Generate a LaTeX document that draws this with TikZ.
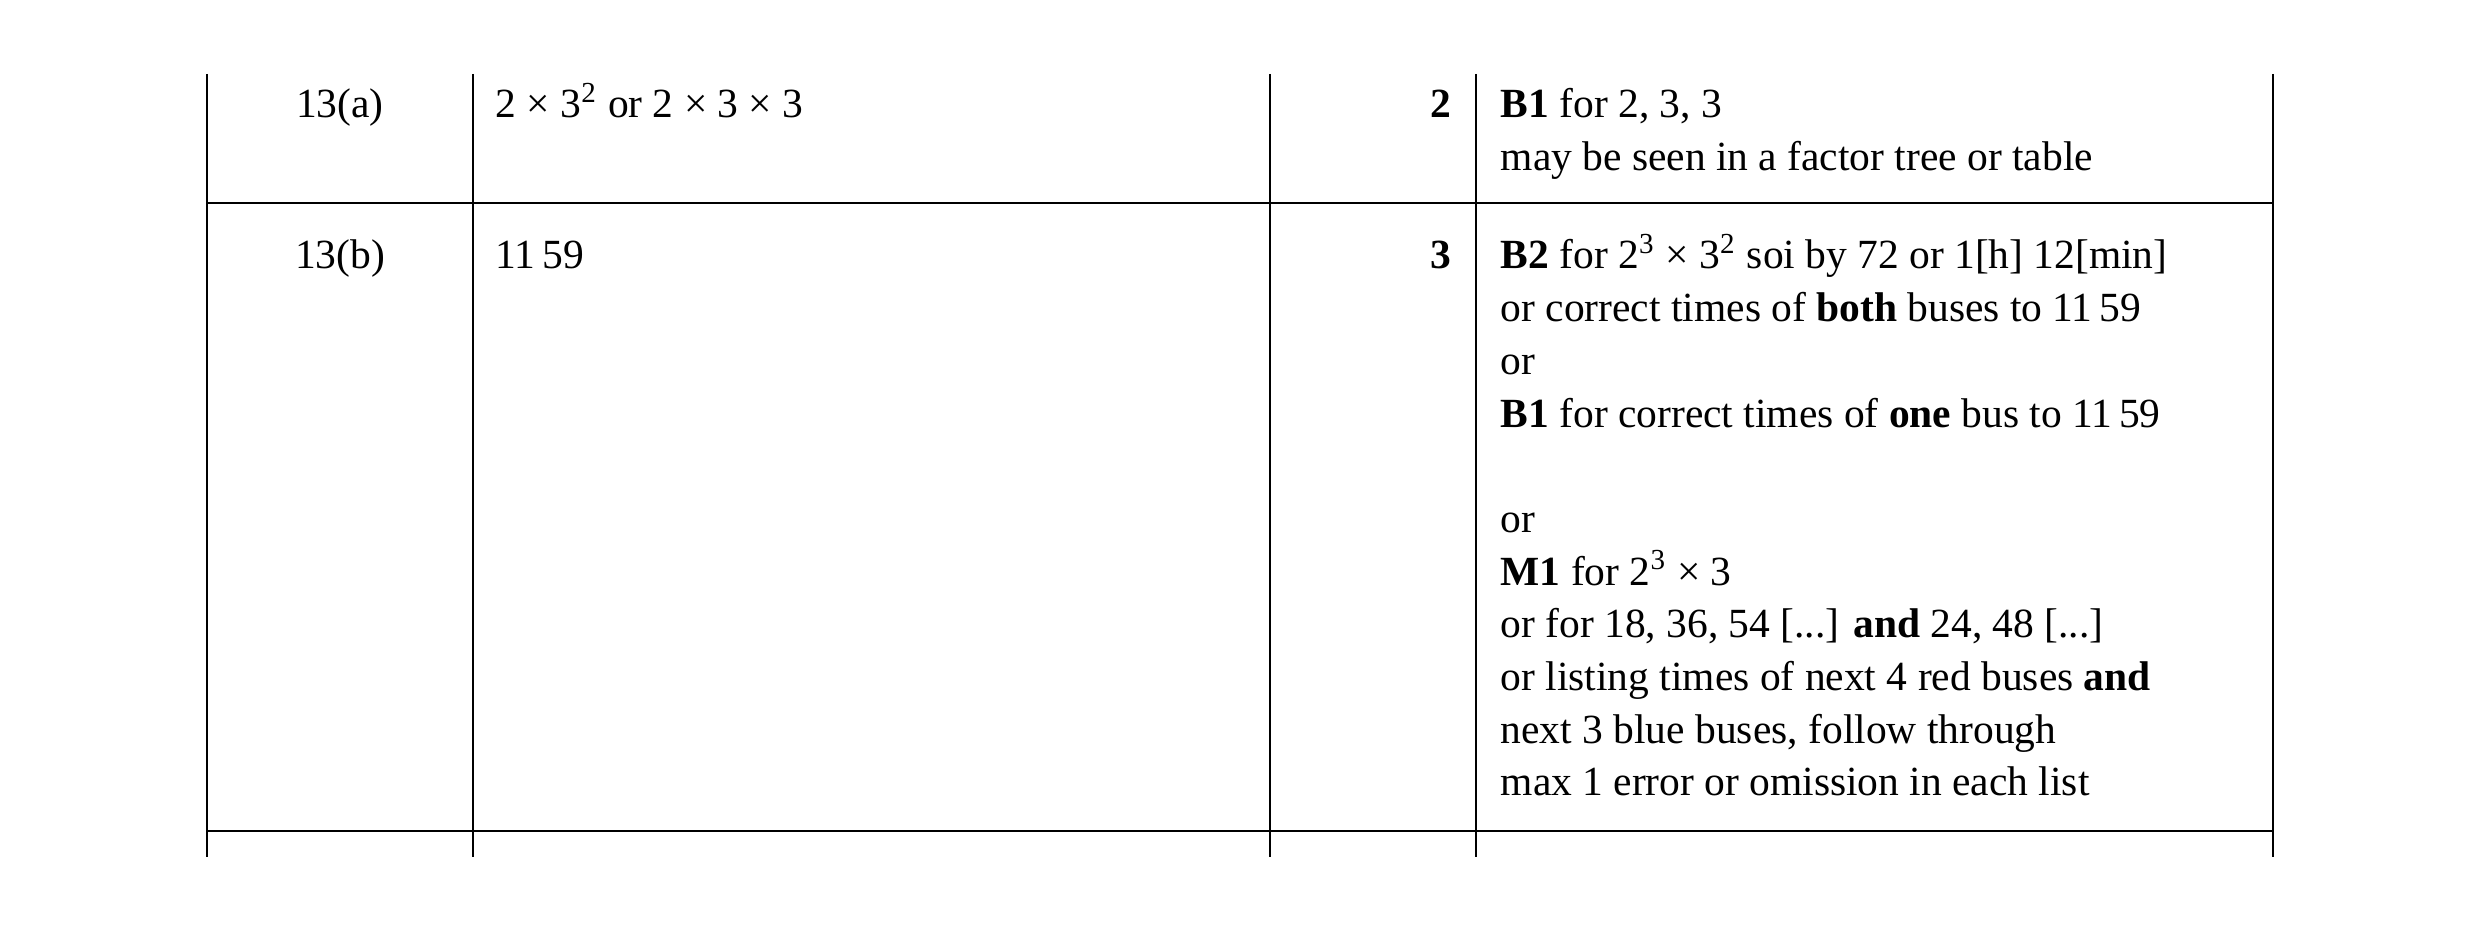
\documentclass[tikz,border=0pt]{standalone}
\usepackage{fontspec}
\setmainfont{Liberation Serif}
\newcommand{\elid}{[.{}.{}.]}
\begin{document}
\begin{tikzpicture}[x=0.01cm,y=-0.01cm,
  rule/.style={line width=0.6pt},
  cell/.style={anchor=base west,inner sep=0pt,font=\fontsize{11.8}{14}\selectfont},
  score/.style={anchor=base east,inner sep=0pt,font=\fontsize{11.8}{14}\selectfont\bfseries},
  qnum/.style={anchor=base,inner sep=0pt,font=\fontsize{11.8}{14}\selectfont}]
	\useasboundingbox (0,0) rectangle (2481,934);
	% grid of the table
	\foreach \x in {207,473,1270,1476,2273}
		\draw[rule] (\x,74) -- (\x,857);
	\draw[rule] (207,203) -- (2273,203);
	\draw[rule] (207,831) -- (2273,831);
	% row 13(a)
	\node[qnum] (qa) at (340,118) {13(a)};
	\node[cell] (aa) at (495,118) {2 × 3\textsuperscript{2} or 2 × 3 × 3};
	\node[score] (ma) at (1452,118) {2};
	\foreach \t [count=\i] in {{\textbf{B1} for 2, 3, 3},{may be seen in a factor tree or table}}
		\node[cell] (ca\i) at (1500,118+52.7*\i-52.7) {\t};
	% row 13(b)
	\node[qnum] (qb) at (340,269) {13(b)};
	\node[cell] (ab) at (495,269) {11\,59};
	\node[score] (mb) at (1452,269) {3};
	\foreach \t [count=\i] in {%
		{\textbf{B2} for 2\textsuperscript{3} × 3\textsuperscript{2} soi by 72 or 1[h] 12[min]},
		{or correct times of \textbf{both} buses to 11\,59},
		{or},
		{\textbf{B1} for correct times of \textbf{one} bus to 11\,59},
		{},
		{or},
		{\textbf{M1} for 2\textsuperscript{3} × 3},
		{or for 18, 36, 54 \elid{} \textbf{and} 24, 48 \elid},
		{or listing times of next 4 red buses \textbf{and}},
		{next 3 blue buses, follow through},
		{max 1 error or omission in each list}}
		\node[cell] (cb\i) at (1500,269+52.7*\i-52.7) {\t};
\end{tikzpicture}
\end{document}
